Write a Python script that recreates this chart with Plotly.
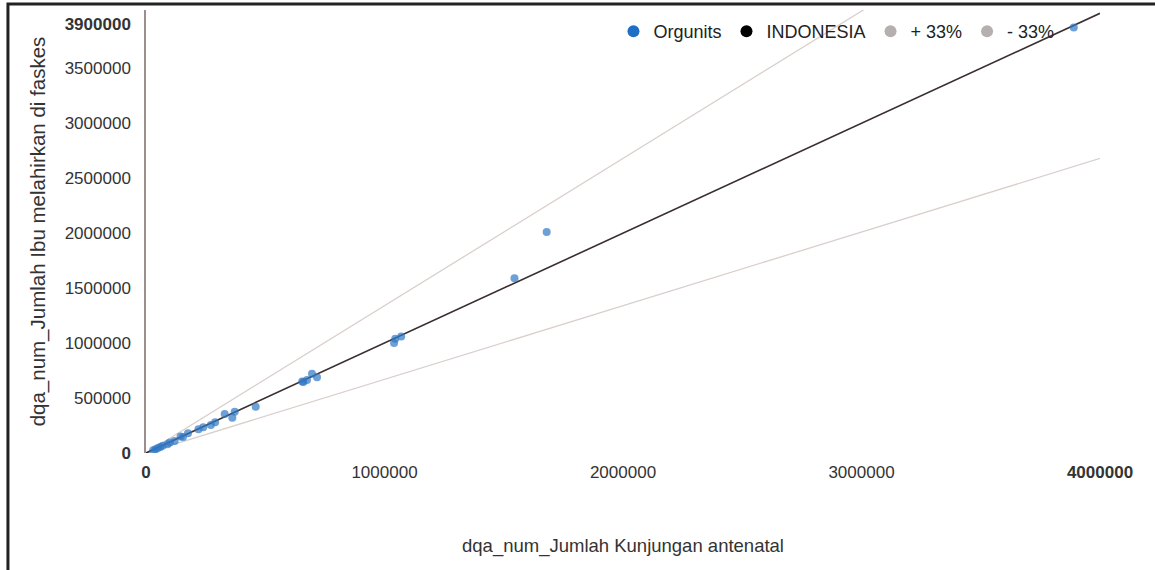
import plotly.graph_objects as go

# Orgunits data (x = Jumlah Kunjungan antenatal, y = Jumlah Ibu melahirkan di faskes)
org_x = [3890000, 1680000, 1545000, 1070000, 1045000, 1040000, 717000, 696000, 660000, 655000,
         675000, 460000, 372000, 362000, 330000, 290000, 272000, 240000, 220000, 176000,
         155000, 145000, 120000, 100000, 90000, 70000, 60000, 50000, 40000, 30000]
org_y = [3870000, 2010000, 1590000, 1060000, 1040000, 1000000, 690000, 720000, 645000, 650000,
         665000, 420000, 375000, 320000, 355000, 280000, 255000, 235000, 215000, 180000,
         145000, 150000, 110000, 95000, 80000, 65000, 55000, 45000, 35000, 25000]

line_x = [0, 4000000]
indo_slope = 1.0
plus_slope = 1.34
minus_slope = 0.67

x_ticks = [0, 1000000, 2000000, 3000000, 4000000]
x_ticktext = ["<b>0</b>", "1000000", "2000000", "3000000", "<b>4000000</b>"]
y_ticks = [0, 500000, 1000000, 1500000, 2000000, 2500000, 3000000, 3500000, 3900000]
y_ticktext = ["<b>0</b>", "500000", "1000000", "1500000", "2000000", "2500000",
              "3000000", "3500000", "<b>3900000</b>"]

fig = go.Figure()

fig.add_trace(go.Scatter(x=line_x, y=[v * plus_slope for v in line_x], mode="lines",
                         line=dict(color="#d9d0cc", width=1.3), showlegend=False, hoverinfo="skip"))
fig.add_trace(go.Scatter(x=line_x, y=[v * minus_slope for v in line_x], mode="lines",
                         line=dict(color="#d9d0cc", width=1.3), showlegend=False, hoverinfo="skip"))
fig.add_trace(go.Scatter(x=line_x, y=[v * indo_slope for v in line_x], mode="lines",
                         line=dict(color="#3a2e2e", width=1.6), showlegend=False, hoverinfo="skip"))

fig.add_trace(go.Scatter(x=org_x, y=org_y, mode="markers", name="Orgunits",
                         marker=dict(color="rgba(47,120,196,0.7)", size=8), showlegend=False))

# legend entries
for name, col in [("Orgunits", "#1f6fc5"), ("INDONESIA", "#000000"),
                  ("+ 33%", "#b5b0ae"), ("- 33%", "#b5b0ae")]:
    fig.add_trace(go.Scatter(x=[None], y=[None], mode="markers", name=name,
                             marker=dict(color=col, size=16)))

fig.update_layout(
    width=1155, height=570,
    margin=dict(l=146, r=55, t=10, b=117),
    paper_bgcolor="white", plot_bgcolor="white",
    font=dict(family="Liberation Sans, Arial, sans-serif", size=16, color="#333333"),
    legend=dict(orientation="h", x=0.49, xanchor="left", y=0.993, yanchor="top",
                font=dict(size=18, color="#222"), bgcolor="rgba(0,0,0,0)",
                itemsizing="constant", itemwidth=30, tracegroupgap=0),
    xaxis=dict(range=[0, 4000000], tickvals=x_ticks, ticktext=x_ticktext,
               showgrid=False, zeroline=False, showline=False, ticks="",
               automargin=False, ticklabelstandoff=7, tickfont=dict(size=17, color="#333"),
               title=dict(text="dqa_num_Jumlah Kunjungan antenatal", standoff=58,
                          font=dict(size=18.5, color="#333"))),
    yaxis=dict(range=[0, 4030000], tickvals=y_ticks, ticktext=y_ticktext,
               showgrid=False, zeroline=False, showline=True, linecolor="#9a8f8c",
               linewidth=1.5, ticks="", ticklabelstandoff=10, automargin=False,
               tickfont=dict(size=17, color="#333"),
               title=dict(text="dqa_num_Jumlah Ibu melahirkan di faskes", standoff=13,
                          font=dict(size=20.5, color="#333"))),
    shapes=[dict(type="rect", xref="paper", yref="paper", x0=-0.1447, x1=1.2, y0=-0.5, y1=1.0135,
                 line=dict(color="#222", width=3), fillcolor="rgba(0,0,0,0)", layer="above")],
)

fig.write_html("out.html", config={"displayModeBar": False},
               post_script="document.body.style.margin='0px';")
